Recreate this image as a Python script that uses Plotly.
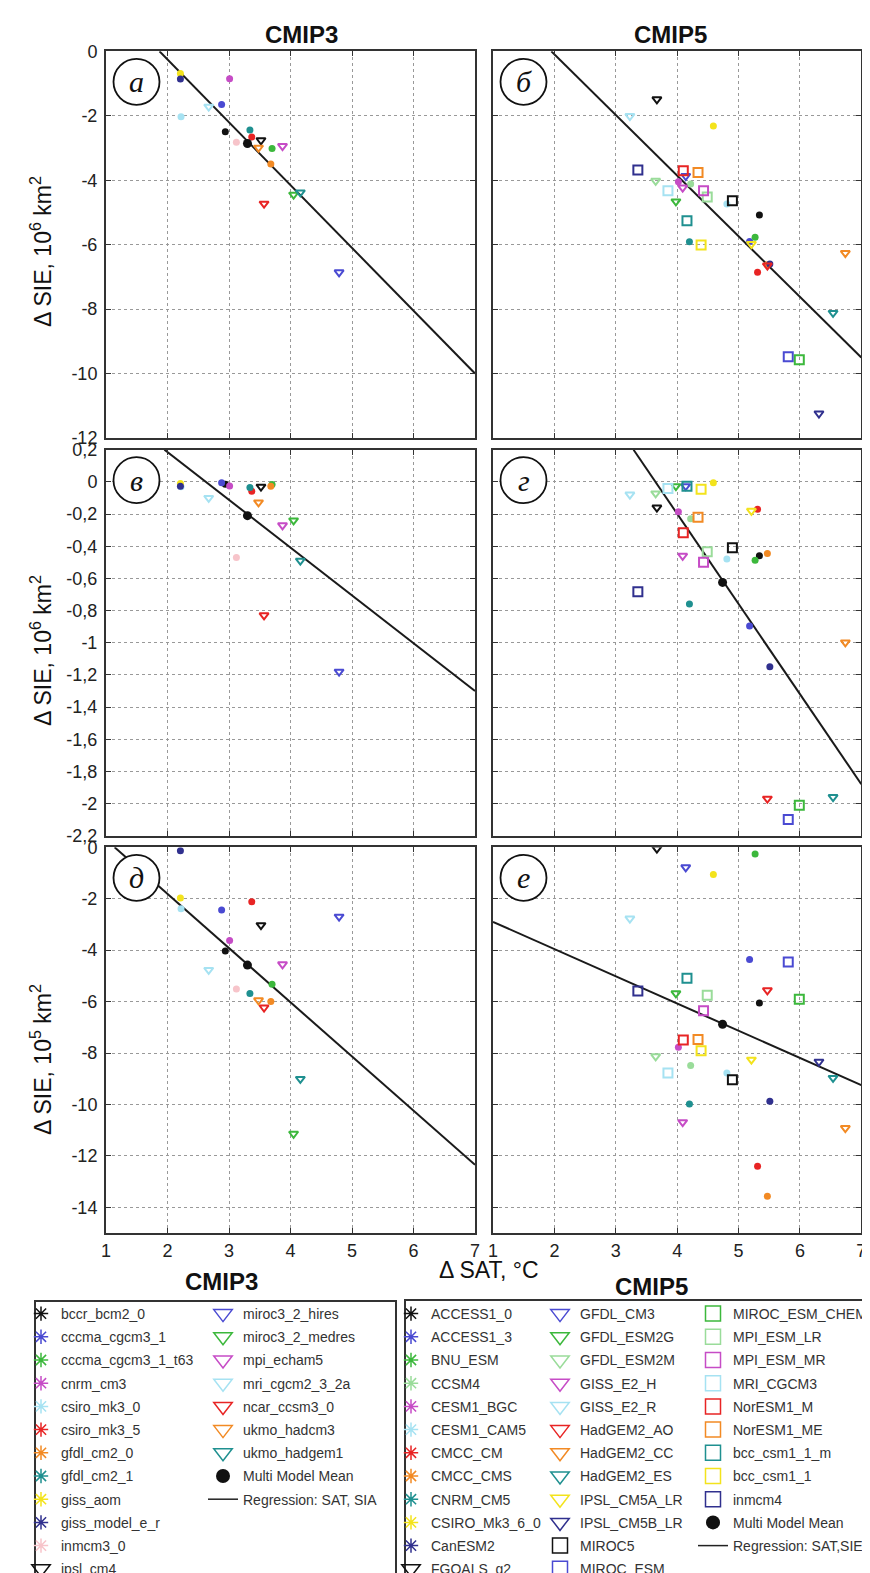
import plotly.graph_objects as go

# ---------------- DATA ----------------
# CMIP3 models
names3 = ['bccr_bcm2_0', 'cccma_cgcm3_1', 'cccma_cgcm3_1_t63', 'cnrm_cm3', 'csiro_mk3_0',
          'csiro_mk3_5', 'gfdl_cm2_0', 'gfdl_cm2_1', 'giss_aom', 'giss_model_e_r', 'inmcm3_0',
          'ipsl_cm4', 'miroc3_2_hires', 'miroc3_2_medres', 'mpi_echam5', 'mri_cgcm2_3_2a',
          'ncar_ccsm3_0', 'ukmo_hadcm3', 'ukmo_hadgem1']
sat3 = [2.94, 2.88, 3.70, 3.01, 2.22, 3.37, 3.68, 3.34, 2.21, 2.21, 3.12,
        3.52, 4.79, 4.05, 3.87, 2.67, 3.57, 3.48, 4.16]
# panel а: ΔSIE, 10^6 km^2
sie3_a = [-2.50, -1.65, -3.02, -0.85, -2.03, -2.66, -3.50, -2.44, -0.69, -0.86, -2.82,
          -2.76, -6.86, -4.45, -2.94, -1.72, -4.73, -2.99, -4.38]
# panel в: ΔSIE, 10^6 km^2
sie3_v = [-0.015, -0.006, -0.017, -0.025, -0.03, -0.058, -0.027, -0.035, -0.01, -0.027, -0.47,
          -0.03, -1.18, -0.24, -0.27, -0.10, -0.83, -0.128, -0.49]
# panel д: ΔSIE, 10^5 km^2
sie3_d = [-4.03, -2.44, -5.33, -3.62, -2.39, -2.12, -6.00, -5.69, -1.97, -0.13, -5.51,
          -3.03, -2.70, -11.14, -4.55, -4.77, -6.23, -5.95, -9.01]
mmm3_sat = 3.30
mmm3_sie = [-2.86, -0.21, -4.58]          # а, в, д

# CMIP5 models
names5 = ['ACCESS1_0', 'ACCESS1_3', 'BNU_ESM', 'CCSM4', 'CESM1_BGC', 'CESM1_CAM5', 'CMCC_CM',
          'CMCC_CMS', 'CNRM_CM5', 'CSIRO_Mk3_6_0', 'CanESM2', 'FGOALS_g2', 'GFDL_CM3',
          'GFDL_ESM2G', 'GFDL_ESM2M', 'GISS_E2_H', 'GISS_E2_R', 'HadGEM2_AO', 'HadGEM2_CC',
          'HadGEM2_ES', 'IPSL_CM5A_LR', 'IPSL_CM5B_LR', 'MIROC5', 'MIROC_ESM',
          'MIROC_ESM_CHEM', 'MPI_ESM_LR', 'MPI_ESM_MR', 'MRI_CGCM3', 'NorESM1_M',
          'NorESM1_ME', 'bcc_csm1_1_m', 'bcc_csm1_1', 'inmcm4']
sat5 = [5.34, 5.18, 5.27, 4.22, 4.02, 4.81, 5.31, 5.47, 4.20, 4.59, 5.51, 3.67, 4.14,
        3.98, 3.65, 4.09, 3.23, 5.47, 6.74, 6.54, 5.21, 6.31, 4.90, 5.81,
        5.99, 4.49, 4.43, 3.85, 4.10, 4.34, 4.16, 4.39, 3.36]
# panel б: ΔSIE, 10^6 km^2
sie5_b = [-5.08, -5.90, -5.77, -4.12, -4.05, -4.74, -6.86, -6.62, -5.91, -2.32, -6.60, -1.49, -3.87,
          -4.66, -4.02, -4.23, -2.01, -6.65, -6.26, -8.12, -5.98, -11.24, -4.64, -9.48,
          -9.57, -4.52, -4.33, -4.33, -3.71, -3.76, -5.26, -6.01, -3.68]
# panel г: ΔSIE, 10^6 km^2
sie5_g = [-0.46, -0.896, -0.487, -0.23, -0.186, -0.48, -0.17, -0.445, -0.76, -0.006, -1.149, -0.16, -0.027,
          -0.027, -0.072, -0.46, -0.079, -1.97, -0.998, -1.96, -0.18, None, -0.41, -2.10,
          -2.01, -0.435, -0.50, -0.041, -0.317, -0.22, -0.027, -0.046, -0.683]
# panel е: ΔSIE, 10^5 km^2
sie5_e = [-6.06, -4.36, -0.26, -8.49, -7.78, -8.78, -12.40, -13.57, -9.98, -1.06, -9.88, -0.05, -0.78,
          -5.68, -8.13, -10.69, -2.77, -5.56, -10.92, -8.97, -8.26, -8.34, -9.04, -4.46,
          -5.91, -5.75, -6.36, -8.78, -7.49, -7.47, -5.09, -7.91, -5.59]
mmm5_sat = 4.74
mmm5_sie = [None, -0.625, -6.88]          # б, г, е

# regression lines (end points) per panel: а, б, в, г, д, е
reg_x = [[1.87, 7.0], [1.95, 7.0], [1.95, 7.0], [3.29, 7.0], [1.14, 7.0], [1.0, 7.0]]
reg_y = [[0.0, -10.0], [0.0, -9.5], [0.2, -1.3], [0.2, -1.88], [0.0, -12.35], [-2.9, -9.25]]

panel_letters = ['а', 'б', 'в', 'г', 'д', 'е']
x_ticks = [1, 2, 3, 4, 5, 6, 7]
y_ticks_top = [0, -2, -4, -6, -8, -10, -12]
y_ticks_mid = [0.2, 0, -0.2, -0.4, -0.6, -0.8, -1, -1.2, -1.4, -1.6, -1.8, -2, -2.2]
y_ticks_mid_text = ['0,2', '0', '-0,2', '-0,4', '-0,6', '-0,8', '-1', '-1,2', '-1,4', '-1,6',
                    '-1,8', '-2', '-2,2']
y_ticks_bot = [0, -2, -4, -6, -8, -10, -12, -14]

# ---------------- STYLES ----------------
BLACK = '#111111'; BLUE = '#4a4ad2'; GREEN = '#3cb83c'; LGREEN = '#9adc9a'
MAGENTA = '#c64cc6'; LCYAN = '#a6e2f2'; RED = '#e82424'; ORANGE = '#f28a24'
TEAL = '#1f9090'; YELLOW = '#f3e31c'; NAVY = '#30308e'; PINK = '#f7c4ca'

cols3 = [BLACK, BLUE, GREEN, MAGENTA, LCYAN, RED, ORANGE, TEAL, YELLOW, NAVY, PINK,
         BLACK, BLUE, GREEN, MAGENTA, LCYAN, RED, ORANGE, TEAL]
kind3 = ['ast'] * 11 + ['tri'] * 8
pal5 = [BLACK, BLUE, GREEN, LGREEN, MAGENTA, LCYAN, RED, ORANGE, TEAL, YELLOW, NAVY]
cols5 = pal5 * 3
kind5 = ['ast'] * 11 + ['tri'] * 11 + ['sq'] * 11

FONT = 'Liberation Sans, Arial, sans-serif'
W, H = 870, 1573


def px(x):
    return x / W


def py(y):
    return 1 - y / H


col_px = [(98, 467), (485, 853.3)]
row_px = [(43.3, 430), (441.7, 827.7), (839.3, 1225)]
yranges = [[-12, 0], [-2.2, 0.2], [-15, 0]]

fig = go.Figure()


def data_marker(kind, color):
    if kind == 'ast':
        return dict(symbol='circle', size=7, color=color, line=dict(width=0))
    if kind == 'tri':
        return dict(symbol='triangle-down-open', size=8, color=color,
                    line=dict(width=2, color=color))
    if kind == 'sq':
        return dict(symbol='square-open', size=9, color=color,
                    line=dict(width=2, color=color))
    return dict(symbol='circle', size=9, color=BLACK)


def legend_marker(kind, color):
    if kind == 'ast':
        return dict(symbol='asterisk-open', size=12, color=color,
                    line=dict(width=1.5, color=color))
    if kind == 'tri':
        return dict(symbol='triangle-down-open', size=16, color=color,
                    line=dict(width=1.5, color=color))
    if kind == 'sq':
        return dict(symbol='square-open', size=15, color=color,
                    line=dict(width=1.5, color=color))
    return dict(symbol='circle', size=14, color=BLACK)


panel_data = [
    (0, 0, sat3, sie3_a, names3, cols3, kind3, mmm3_sat, mmm3_sie[0]),
    (0, 1, sat5, sie5_b, names5, cols5, kind5, mmm5_sat, mmm5_sie[0]),
    (1, 0, sat3, sie3_v, names3, cols3, kind3, mmm3_sat, mmm3_sie[1]),
    (1, 1, sat5, sie5_g, names5, cols5, kind5, mmm5_sat, mmm5_sie[1]),
    (2, 0, sat3, sie3_d, names3, cols3, kind3, mmm3_sat, mmm3_sie[2]),
    (2, 1, sat5, sie5_e, names5, cols5, kind5, mmm5_sat, mmm5_sie[2]),
]

layout_axes = {}
shapes = []
annotations = []

for p, (r, c, sat, sie, names, cols, kinds, msat, msie) in enumerate(panel_data):
    k = p + 1
    xa = 'x' if k == 1 else f'x{k}'
    ya = 'y' if k == 1 else f'y{k}'
    # regression
    fig.add_trace(go.Scatter(x=reg_x[p], y=reg_y[p], mode='lines',
                             line=dict(color='#1a1a1a', width=2),
                             xaxis=xa, yaxis=ya, showlegend=False, hoverinfo='skip'))
    for i, nm in enumerate(names):
        if sie[i] is None:
            continue
        fig.add_trace(go.Scatter(x=[sat[i]], y=[sie[i]], mode='markers',
                                 marker=data_marker(kinds[i], cols[i]), name=nm,
                                 xaxis=xa, yaxis=ya, showlegend=False))
    if msie is not None:
        fig.add_trace(go.Scatter(x=[msat], y=[msie], mode='markers',
                                 marker=data_marker('mmm', BLACK), name='Multi Model Mean',
                                 xaxis=xa, yaxis=ya, showlegend=False))

    x0, x1 = col_px[c]
    y0, y1 = row_px[r]
    common = dict(ticks='inside', ticklen=5, tickwidth=1.2, tickcolor='#333',
                  showline=True, linewidth=2, linecolor='#333', mirror='ticks',
                  showgrid=True, gridcolor='#999999', griddash='dot', gridwidth=1,
                  zeroline=False, tickfont=dict(family=FONT, size=18, color='#222'))
    layout_axes['xaxis' if k == 1 else f'xaxis{k}'] = dict(
        domain=[px(x0), px(x1)], range=[1, 7], tickvals=x_ticks,
        ticktext=[str(t) for t in x_ticks], showticklabels=(r == 2),
        anchor=ya, **common)
    if r == 0:
        tv, tt = y_ticks_top, [str(t) for t in y_ticks_top]
    elif r == 1:
        tv, tt = y_ticks_mid, y_ticks_mid_text
    else:
        tv, tt = y_ticks_bot, [str(t) for t in y_ticks_bot]
    layout_axes['yaxis' if k == 1 else f'yaxis{k}'] = dict(
        domain=[py(y1), py(y0)], range=yranges[r], tickvals=tv, ticktext=tt,
        showticklabels=(c == 0), anchor=xa, ticklabelstandoff=3, **common)

    # panel letter in circle
    cx = x0 + 30.5
    cy = y0 + 30.5
    rad = 23
    shapes.append(dict(type='circle', xref='paper', yref='paper',
                       x0=px(cx - rad), x1=px(cx + rad), y0=py(cy + rad), y1=py(cy - rad),
                       line=dict(color='#111', width=1.8), fillcolor='white', layer='above'))
    annotations.append(dict(x=px(cx), y=py(cy), xref='paper', yref='paper',
                            text=f'<i>{panel_letters[p]}</i>', showarrow=False,
                            font=dict(family='Liberation Serif, Times New Roman, serif',
                                      size=30, color='#111'),
                            xanchor='center', yanchor='middle'))

# ---------------- LEGENDS (dummy entries) ----------------
leg_groups = [
    ('legend', [(names3[i], kind3[i], cols3[i]) for i in range(0, 12)]),
    ('legend2', [(names3[i], kind3[i], cols3[i]) for i in range(12, 19)] +
     [('Multi Model Mean', 'mmm', BLACK), ('Regression: SAT, SIA', 'line', BLACK)]),
    ('legend3', [(names5[i], kind5[i], cols5[i]) for i in range(0, 12)]),
    ('legend4', [(names5[i], kind5[i], cols5[i]) for i in range(12, 24)]),
    ('legend5', [(names5[i], kind5[i], cols5[i]) for i in range(24, 33)] +
     [('Multi Model Mean', 'mmm', BLACK), ('Regression: SAT,SIE', 'line', BLACK)]),
]
leg_left = {'legend': 13, 'legend2': 195, 'legend3': 383, 'legend4': 532, 'legend5': 685}
gid = 0
for lg, items in leg_groups:
    for nm, kind, colr in items:
        gid += 1
        if kind == 'line':
            fig.add_trace(go.Scatter(x=[None], y=[None], mode='lines', name=nm,
                                     line=dict(color='#222', width=1.5),
                                     legend=lg, legendgroup=f'g{gid}', showlegend=True))
        else:
            fig.add_trace(go.Scatter(x=[None], y=[None], mode='markers', name=nm,
                                     marker=legend_marker(kind, colr),
                                     legend=lg, legendgroup=f'g{gid}', showlegend=True))

legend_cfg = {}
for lg in leg_left:
    legend_cfg[lg] = dict(x=px(leg_left[lg]), y=py(1290), xanchor='left', yanchor='top',
                          orientation='v', traceorder='grouped', tracegroupgap=2,
                          bgcolor='rgba(0,0,0,0)', borderwidth=0, itemsizing='trace',
                          font=dict(family=FONT, size=14, color='#333'))

# legend boxes
shapes.append(dict(type='rect', xref='paper', yref='paper', x0=px(27), x1=px(388),
                   y0=py(1640), y1=py(1293), line=dict(color='#333', width=2), layer='below'))
shapes.append(dict(type='rect', xref='paper', yref='paper', x0=px(397), x1=px(940),
                   y0=py(1640), y1=py(1292), line=dict(color='#333', width=2), layer='below'))

# titles / labels
def ann(x, y, text, size, bold=False, angle=0):
    return dict(x=px(x), y=py(y), xref='paper', yref='paper', showarrow=False,
                text=(f'<b>{text}</b>' if bold else text), textangle=angle,
                font=dict(family=FONT, size=size, color='#111'),
                xanchor='center', yanchor='middle')

annotations += [
    ann(293, 27, 'CMIP3', 24, bold=True),
    ann(662, 27, 'CMIP5', 24, bold=True),
    ann(33, 244, 'Δ SIE, 10<sup>6</sup> km<sup>2</sup>', 23, angle=-90),
    ann(33, 643, 'Δ SIE, 10<sup>6</sup> km<sup>2</sup>', 23, angle=-90),
    ann(33, 1052, 'Δ SIE, 10<sup>5</sup> km<sup>2</sup>', 23, angle=-90),
    ann(481, 1262, 'Δ SAT, °C', 23),
    ann(213, 1273, 'CMIP3', 24, bold=True),
    ann(643, 1278, 'CMIP5', 24, bold=True),
]

fig.update_layout(width=W, height=H, margin=dict(l=0, r=0, t=0, b=0, autoexpand=False),
                  paper_bgcolor='white', plot_bgcolor='white',
                  shapes=shapes, annotations=annotations, **layout_axes, **legend_cfg)

fig.write_html('out.html')
